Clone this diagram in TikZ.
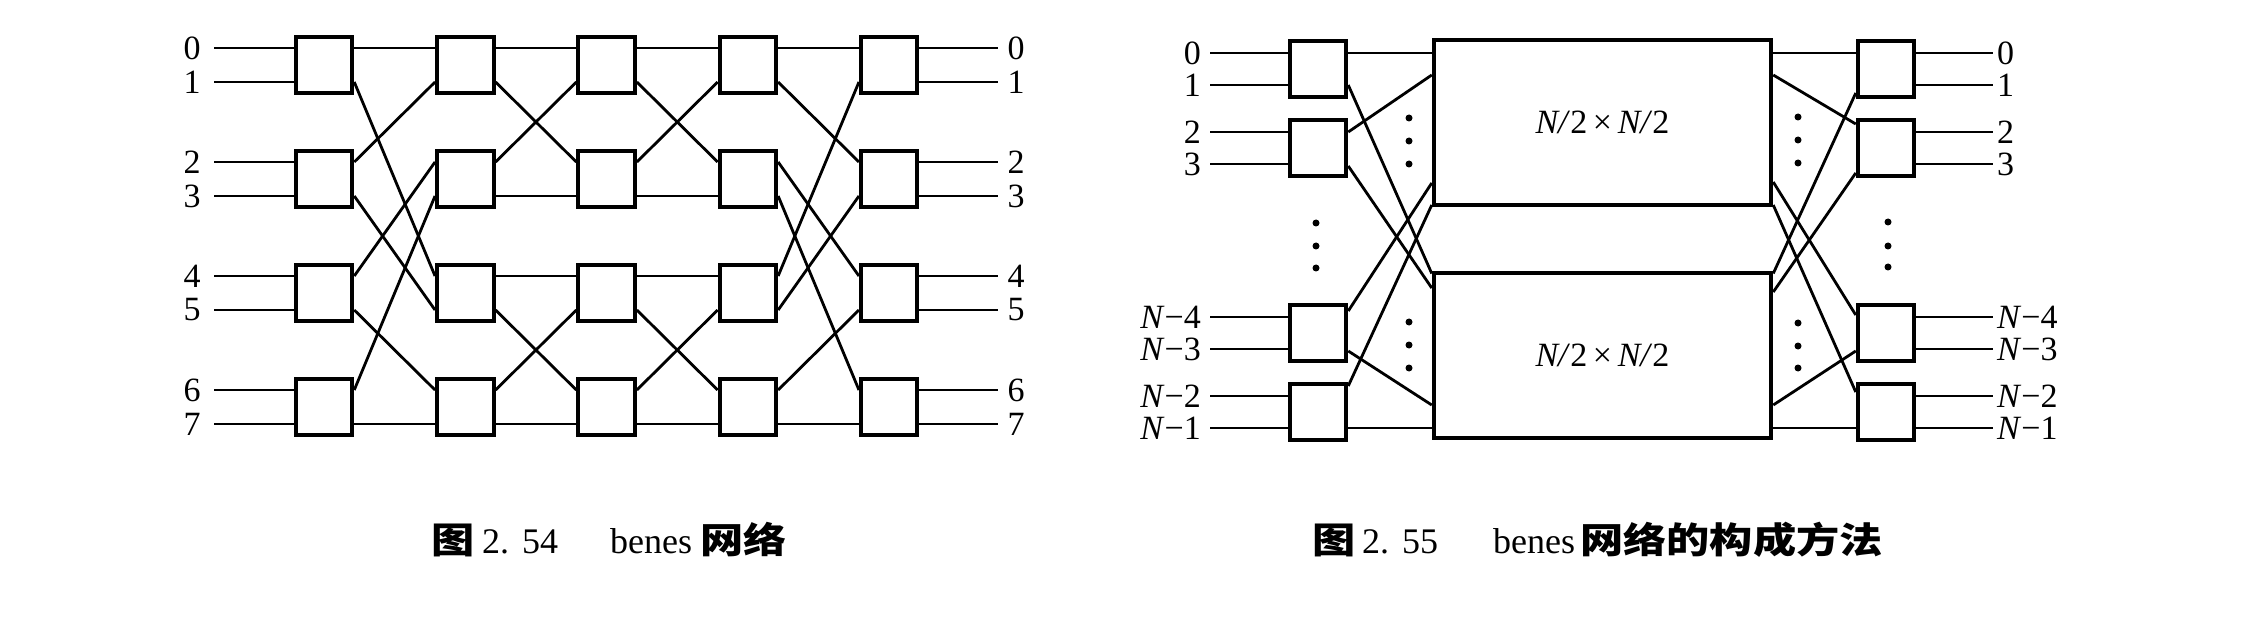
\documentclass[tikz,border=0pt]{standalone}
\usepackage{fontspec}
\setmainfont{Liberation Serif}
\newfontfamily\cjk{Noto Sans CJK SC}[FakeStretch=1.2]
\usetikzlibrary{calc}
\begin{document}
\begin{tikzpicture}[x=1pt,y=-1pt,
  sw/.style={draw,line width=4pt,minimum width=56.5pt,minimum height=55.5pt,inner sep=0pt},
  big/.style={draw,line width=4pt,minimum width=337.5pt,minimum height=165.5pt,inner sep=0pt,font=\fontsize{34}{36}\selectfont},
  wire/.style={line width=2.8pt},
  lab/.style={inner sep=0pt,font=\fontsize{34}{36}\selectfont},
  captxt/.style={inner sep=0pt,anchor=base west,font=\fontsize{36}{40}\selectfont},
  cjkcap/.style={inner sep=0pt,anchor=base west,font=\fontsize{36}{40}\cjk\bfseries}]
\useasboundingbox (0,0) rectangle (2254,636);

% ---------------- left: benes network 8x8 ----------------
\foreach \c/\x in {1/324,2/465.3,3/606.6,4/747.9,5/889.2}{
  \foreach \r/\y in {1/65,2/179,3/293,4/407}{
    \node[sw] (L\c\r) at (\x,\y) {};
    \coordinate (L\c\r-i0) at ([yshift=17pt]L\c\r.west);
    \coordinate (L\c\r-i1) at ([yshift=-17pt]L\c\r.west);
    \coordinate (L\c\r-o0) at ([yshift=17pt]L\c\r.east);
    \coordinate (L\c\r-o1) at ([yshift=-17pt]L\c\r.east);
  }}
\coordinate (xinL) at (214,0);
\coordinate (xlabL) at (192,0);
\coordinate (xoutL) at (998,0);
\coordinate (xolabL) at (1016,0);
\foreach \n/\r/\p in {0/1/0,1/1/1,2/2/0,3/2/1,4/3/0,5/3/1,6/4/0,7/4/1}{
  \node[lab] (inL\n) at (xlabL |- L1\r-i\p) {\n};
  \coordinate (sL\n) at (xinL |- L1\r-i\p);
  \draw[wire] (sL\n) -- (L1\r-i\p);
  \node[lab] (outL\n) at (xolabL |- L5\r-o\p) {\n};
  \coordinate (eL\n) at (xoutL |- L5\r-o\p);
  \draw[wire] (L5\r-o\p) -- (eL\n);
}
\foreach \a/\b in {L11-o0/L21-i0, L11-o1/L23-i0, L12-o0/L21-i1, L12-o1/L23-i1,
  L13-o0/L22-i0, L13-o1/L24-i0, L14-o0/L22-i1, L14-o1/L24-i1,
  L21-o0/L31-i0, L21-o1/L32-i0, L22-o0/L31-i1, L22-o1/L32-i1,
  L23-o0/L33-i0, L23-o1/L34-i0, L24-o0/L33-i1, L24-o1/L34-i1,
  L31-o0/L41-i0, L31-o1/L42-i0, L32-o0/L41-i1, L32-o1/L42-i1,
  L33-o0/L43-i0, L33-o1/L44-i0, L34-o0/L43-i1, L34-o1/L44-i1,
  L41-o0/L51-i0, L41-o1/L52-i0, L42-o0/L53-i0, L42-o1/L54-i0,
  L43-o0/L51-i1, L43-o1/L52-i1, L44-o0/L53-i1, L44-o1/L54-i1}
  \draw[wire] (\a) -- (\b);

% ---------------- right: recursive construction ----------------
\foreach \r/\y in {1/69,2/148,3/333,4/412}{
  \node[sw] (A\r) at (1318,\y) {};
  \node[sw] (B\r) at (1886,\y) {};
  \coordinate (A\r-i0) at ([yshift=16pt]A\r.west);
  \coordinate (A\r-i1) at ([yshift=-16pt]A\r.west);
  \coordinate (B\r-o0) at ([yshift=16pt]B\r.east);
  \coordinate (B\r-o1) at ([yshift=-16pt]B\r.east);
}
\node[big] (U) at (1602.5,122.5) {\textit{N/}2\,×\,\textit{N/}2};
\node[big] (D) at (1602.5,355.5) {\textit{N/}2\,×\,\textit{N/}2};

\coordinate (xinA) at (1210,0);
\coordinate (xlabA) at (1201,0);
\coordinate (xoutB) at (1993,0);
\coordinate (xlabB) at (1997,0);
\foreach \k/\t/\r/\p in {a/0/1/0,b/1/1/1,c/2/2/0,d/3/2/1,e/\textit{N}−4/3/0,f/\textit{N}−3/3/1,g/\textit{N}−2/4/0,h/\textit{N}−1/4/1}{
  \node[lab,anchor=east] (inA\k) at (xlabA |- A\r-i\p) {\t};
  \coordinate (sA\k) at (xinA |- A\r-i\p);
  \draw[wire] (sA\k) -- (A\r-i\p);
  \node[lab,anchor=west] (outB\k) at (xlabB |- B\r-o\p) {\t};
  \coordinate (eB\k) at (xoutB |- B\r-o\p);
  \draw[wire] (B\r-o\p) -- (eB\k);
}
% first stage to sub-networks
\draw[wire] ([yshift=16pt]A1.east) -- ([yshift=16pt]A1.east -| U.west);
\draw[wire] ([yshift=-16pt]A1.east) -- ([yshift=82pt]D.west);
\draw[wire] ([yshift=16pt]A2.east) -- ([yshift=47.5pt]U.west);
\draw[wire] ([yshift=-18pt]A2.east) -- ([yshift=67.5pt]D.west);
\draw[wire] ([yshift=22pt]A3.east) -- ([yshift=-60.5pt]U.west);
\draw[wire] ([yshift=-18pt]A3.east) -- ([yshift=-49.5pt]D.west);
\draw[wire] ([yshift=26pt]A4.east) -- ([yshift=-82.5pt]U.west);
\draw[wire] ([yshift=-16pt]A4.east) -- ([yshift=-16pt]A4.east -| D.west);
% sub-networks to last stage
\draw[wire] ([yshift=16pt]B1.west -| U.east) -- ([yshift=16pt]B1.west);
\draw[wire] ([yshift=47.5pt]U.east) -- ([yshift=24pt]B2.west);
\draw[wire] ([yshift=-59.5pt]U.east) -- ([yshift=18pt]B3.west);
\draw[wire] ([yshift=-82.5pt]U.east) -- ([yshift=20pt]B4.west);
\draw[wire] ([yshift=82pt]D.east) -- ([yshift=-24pt]B1.west);
\draw[wire] ([yshift=63.5pt]D.east) -- ([yshift=-25pt]B2.west);
\draw[wire] ([yshift=-49.5pt]D.east) -- ([yshift=-18pt]B3.west);
\draw[wire] ([yshift=-16pt]B4.west -| D.east) -- ([yshift=-16pt]B4.west);
% dots
\foreach \x/\y in {1409/118,1409/141,1409/164,1409/322,1409/345,1409/368,
  1798/117,1798/140,1798/163,1798/323,1798/346,1798/368,
  1316/223,1316/246,1316/268,1888/222,1888/246,1888/267}
  \fill (\x,\y) circle (3.5pt);

% ---------------- captions ----------------
\node[cjkcap] (c1a) at (431,553) {图};
\node[captxt] (c1b) at (482,553) {2.\hspace{13pt}54};
\node[captxt] (c1c) at (610,553) {benes};
\node[cjkcap] (c1d) at (700,553) {网络};
\node[cjkcap] (c2a) at (1312,553) {图};
\node[captxt] (c2b) at (1362,553) {2.\hspace{13pt}55};
\node[captxt] (c2c) at (1493,553) {benes};
\node[cjkcap] (c2d) at (1580,553) {网络的构成方法};
\end{tikzpicture}
\end{document}
